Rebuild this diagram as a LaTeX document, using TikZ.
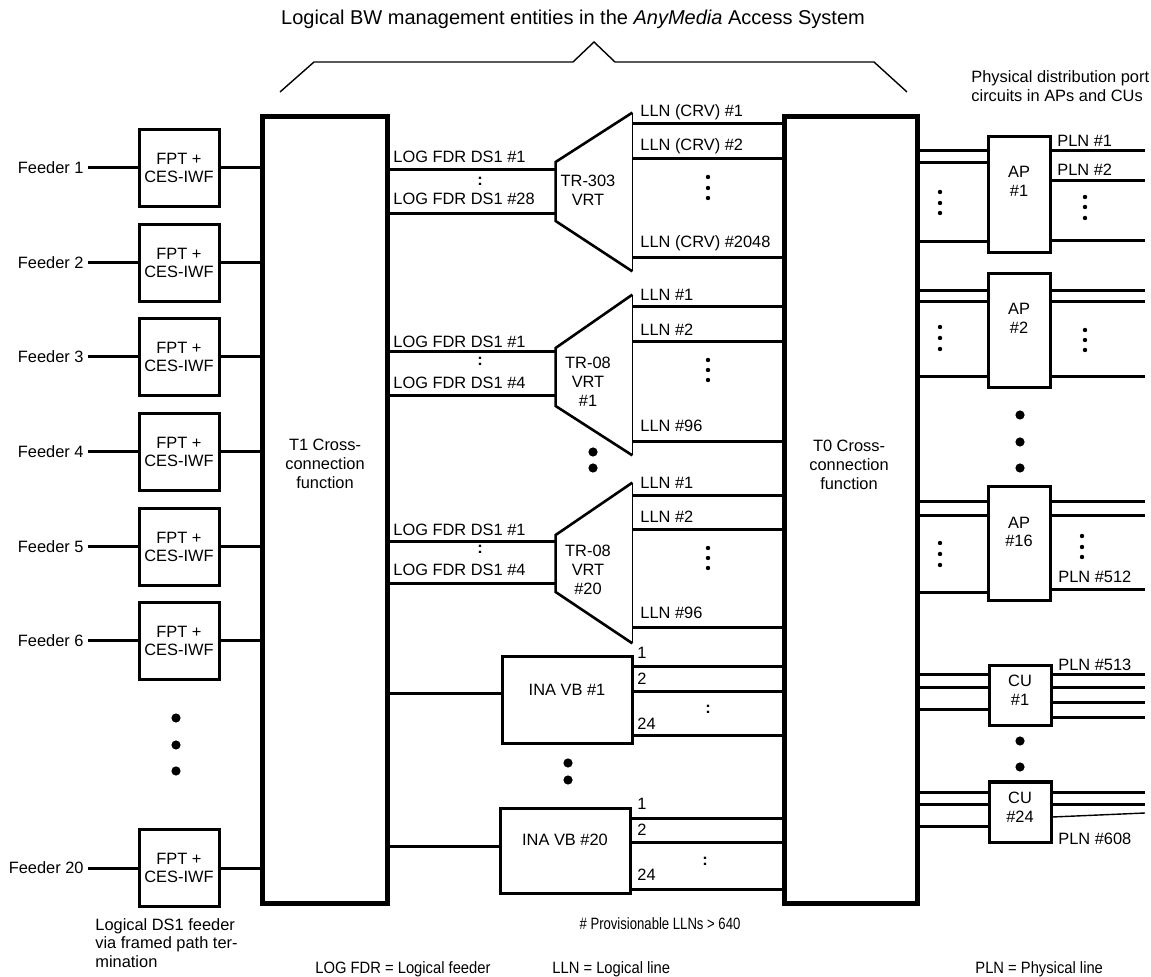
\documentclass[tikz,border=0pt]{standalone}
\usepackage{fontspec}
\setmainfont{Liberation Sans}
\newfontfamily\narrowsans[FakeStretch=0.9]{Liberation Sans}
\newfontfamily\tightsans[FakeStretch=0.8]{Liberation Sans}
\usetikzlibrary{fit}
\begin{document}
\begin{tikzpicture}[x=0.5pt,y=-0.5pt,
  every node/.style={font=\fontsize{8.2}{9.4}\selectfont, inner sep=0pt},
  heavy/.style={draw, line width=2.5pt, inner sep=0pt},
  unit/.style={draw, line width=1.5pt, inner sep=0pt},
  area/.style={inner sep=0pt},
  wire/.style={line width=1.5pt},
  hair/.style={line width=0.7pt},
  slope/.style={line width=1.3pt, line join=miter},
  txt/.style={anchor=west},
  mtext/.style={align=center},
  legend/.style={anchor=west, font=\narrowsans\fontsize{8.2}{9.4}\selectfont},
]
\fill[white] (0,0) rectangle (1151,977);
\path[use as bounding box] (0,0) rectangle (1151,977);

% heading and brace
\node[font=\fontsize{10}{12}\selectfont] (title) at (573,19) {Logical BW management entities in the \textit{AnyMedia} Access System};
\draw[hair] (280,92) -- (314,62) -- (573,62) -- (594,42) -- (615,62) -- (874,62) -- (907,92);

% cross-connection functions
\node[heavy, fit={(262,117) (387,903)}] (t1) {};
\node[mtext] (t1txt) at (325,464) {T1 Cross-\\connection\\function};
\node[heavy, fit={(784,117) (917,903)}] (t0) {};
\node[mtext] (t0txt) at (849,465) {T0 Cross-\\connection\\function};
\coordinate (rim) at (1145,0);

% feeders
\foreach \n/\y in {1/168,2/263,3/357,4/452,5/547,6/641,20/868}{
  \node[unit, minimum width=40pt, minimum height=38.5pt, align=center] (fpt\n) at (179,\y) {FPT +\\CES-IWF};
  \node[anchor=east, inner xsep=2pt] (fd\n) at (88,\y) {Feeder \n};
  \draw[wire] (fd\n) -- (fpt\n);
  \draw[wire] (fpt\n.east) -- (fpt\n.east -| t1.west);
}
\foreach \y in {718,745,771} \fill (176,\y) circle[radius=2.3pt];
\node[anchor=west, align=left] (fpnote) at (95,943) {Logical DS1 feeder\\via framed path ter-\\mination};

% TR-303 VRT
\node[area, fit={(556,113) (632,271)}] (vA) {};
\draw[slope] (vA.north east) -- (vA.west |- 0,162) -- (vA.west |- 0,221) -- (vA.south east);
\draw[hair] (vA.north east) -- (vA.south east);
\node[mtext] (vAtxt) at (588,190) {TR-303\\VRT};
\foreach \y in {170,214} \draw[wire] (t1.east |- 0,\y) -- (vA.west |- 0,\y);
\node[txt] at (393,157) {LOG FDR DS1 \#1};
\node at (480,181) {\textbf{:}};
\node[txt] at (393,199) {LOG FDR DS1 \#28};
\foreach \y in {124,159,258} \draw[wire] (vA.east |- 0,\y) -- (t0.west |- 0,\y);
\node[txt] at (640,112) {LLN (CRV) \#1};
\node[txt] at (640,146) {LLN (CRV) \#2};
\node[txt] at (640,243) {LLN (CRV) \#2048};
\foreach \y in {177,188,198} \fill (708,\y) circle[radius=1.1pt];

% TR-08 VRT #1
\node[area, fit={(556,295) (632,455)}] (vB) {};
\draw[slope] (vB.north east) -- (vB.west |- 0,348) -- (vB.west |- 0,406) -- (vB.south east);
\draw[hair] (vB.north east) -- (vB.south east);
\node[mtext] (vBtxt) at (588,382) {TR-08\\VRT\\\#1};
\foreach \y in {352,396} \draw[wire] (t1.east |- 0,\y) -- (vB.west |- 0,\y);
\node[txt] at (393,342) {LOG FDR DS1 \#1};
\node at (480,361) {\textbf{:}};
\node[txt] at (393,383) {LOG FDR DS1 \#4};
\foreach \y in {307,342,442} \draw[wire] (vB.east |- 0,\y) -- (t0.west |- 0,\y);
\node[txt] at (640,295) {LLN \#1};
\node[txt] at (640,330) {LLN \#2};
\node[txt] at (640,426) {LLN \#96};
\foreach \y in {360,370,380} \fill (708,\y) circle[radius=1.1pt];
\foreach \y in {452,468} \fill (593,\y) circle[radius=2.3pt];

% TR-08 VRT #20
\node[area, fit={(556,483) (632,643)}] (vC) {};
\draw[slope] (vC.north east) -- (vC.west |- 0,535) -- (vC.west |- 0,592) -- (vC.south east);
\draw[hair] (vC.north east) -- (vC.south east);
\node[mtext] (vCtxt) at (588,570) {TR-08\\VRT\\\#20};
\foreach \y in {542,584} \draw[wire] (t1.east |- 0,\y) -- (vC.west |- 0,\y);
\node[txt] at (393,530) {LOG FDR DS1 \#1};
\node at (480,549) {\textbf{:}};
\node[txt] at (393,570) {LOG FDR DS1 \#4};
\foreach \y in {496,530,628} \draw[wire] (vC.east |- 0,\y) -- (t0.west |- 0,\y);
\node[txt] at (640,483) {LLN \#1};
\node[txt] at (640,517) {LLN \#2};
\node[txt] at (640,613) {LLN \#96};
\foreach \y in {548,558,568} \fill (708,\y) circle[radius=1.1pt];

% INA VB #1
\node[unit, fit={(502,657) (632,744)}] (ina1) {};
\node (ina1txt) at (567,690) {INA VB \#1};
\draw[wire] (t1.east |- 0,694) -- (ina1.west |- 0,694);
\foreach \y in {667,692,736} \draw[wire] (ina1.east |- 0,\y) -- (t0.west |- 0,\y);
\node[txt] at (637,653) {1};
\node[txt] at (637,679) {2};
\node[txt] at (637,724) {24};
\node at (708,709) {\textbf{:}};
\foreach \y in {763,780} \fill (568,\y) circle[radius=2.3pt];

% INA VB #20
\node[unit, fit={(500,808) (630,893)}] (ina20) {};
\node (ina20txt) at (565,840) {INA VB \#20};
\draw[wire] (t1.east |- 0,846) -- (ina20.west |- 0,846);
\foreach \y in {818,842,889} \draw[wire] (ina20.east |- 0,\y) -- (t0.west |- 0,\y);
\node[txt] at (637,804) {1};
\node[txt] at (637,830) {2};
\node[txt] at (637,875) {24};
\node at (705,861) {\textbf{:}};

% physical distribution side
\node[anchor=west, align=left] (pdtitle) at (971,86) {Physical distribution port\\circuits in APs and CUs};

% AP #1
\node[unit, fit={(988,137) (1050,253)}] (ap1) {};
\node[mtext] at (1019,181) {AP\\\#1};
\foreach \y in {151,163,242} \draw[wire] (t0.east |- 0,\y) -- (ap1.west |- 0,\y);
\foreach \y in {151,181,241} \draw[wire] (ap1.east |- 0,\y) -- (rim |- 0,\y);
\node[txt] at (1057,141) {PLN \#1};
\node[txt] at (1057,170) {PLN \#2};
\foreach \y in {192,203,213} \fill (940,\y) circle[radius=1.1pt];
\foreach \y in {197,207,218} \fill (1085,\y) circle[radius=1.1pt];

% AP #2
\node[unit, fit={(988,274) (1050,388)}] (ap2) {};
\node[mtext] at (1019,318) {AP\\\#2};
\foreach \y in {291,302,377} \draw[wire] (t0.east |- 0,\y) -- (ap2.west |- 0,\y);
\foreach \y in {291,302,377} \draw[wire] (ap2.east |- 0,\y) -- (rim |- 0,\y);
\foreach \y in {327,338,349} \fill (940,\y) circle[radius=1.1pt];
\foreach \y in {330,340,350} \fill (1085,\y) circle[radius=1.1pt];
\foreach \y in {415,442,468} \fill (1020,\y) circle[radius=2.3pt];

% AP #16
\node[unit, fit={(988,487) (1050,601)}] (ap16) {};
\node[mtext] at (1019,532) {AP\\\#16};
\foreach \y in {502,516,593} \draw[wire] (t0.east |- 0,\y) -- (ap16.west |- 0,\y);
\foreach \y in {502,516,590} \draw[wire] (ap16.east |- 0,\y) -- (rim |- 0,\y);
\node[txt] at (1058,577) {PLN \#512};
\foreach \y in {543,554,565} \fill (940,\y) circle[radius=1.1pt];
\foreach \y in {536,547,557} \fill (1082,\y) circle[radius=1.1pt];

% CU #1
\node[unit, fit={(989,666) (1051,726)}] (cu1) {};
\node[mtext] at (1020,690) {CU\\\#1};
\foreach \y in {675,688,710} \draw[wire] (t0.east |- 0,\y) -- (cu1.west |- 0,\y);
\foreach \y in {675,688,703,718} \draw[wire] (cu1.east |- 0,\y) -- (rim |- 0,\y);
\node[txt] at (1058,665) {PLN \#513};
\foreach \y in {741,767} \fill (1020,\y) circle[radius=2.3pt];

% CU #24
\node[unit, fit={(989,782) (1051,842)}] (cu24) {};
\node[mtext] at (1020,807) {CU\\\#24};
\foreach \y in {792,804,826} \draw[wire] (t0.east |- 0,\y) -- (cu24.west |- 0,\y);
\foreach \y in {792,804} \draw[wire] (cu24.east |- 0,\y) -- (rim |- 0,\y);
\draw[hair] (cu24.east |- 0,817) -- (rim |- 0,813);
\node[txt] at (1058,839) {PLN \#608};

% notes
\node[font=\tightsans\fontsize{8.2}{9.4}\selectfont] (prov) at (660,924) {\# Provisionable LLNs > 640};
\node[legend] (lg1) at (315,969) {LOG FDR = Logical feeder};
\node[legend] (lg2) at (552,969) {LLN = Logical line};
\node[legend] (lg3) at (975,969) {PLN = Physical line};
\end{tikzpicture}
\end{document}
